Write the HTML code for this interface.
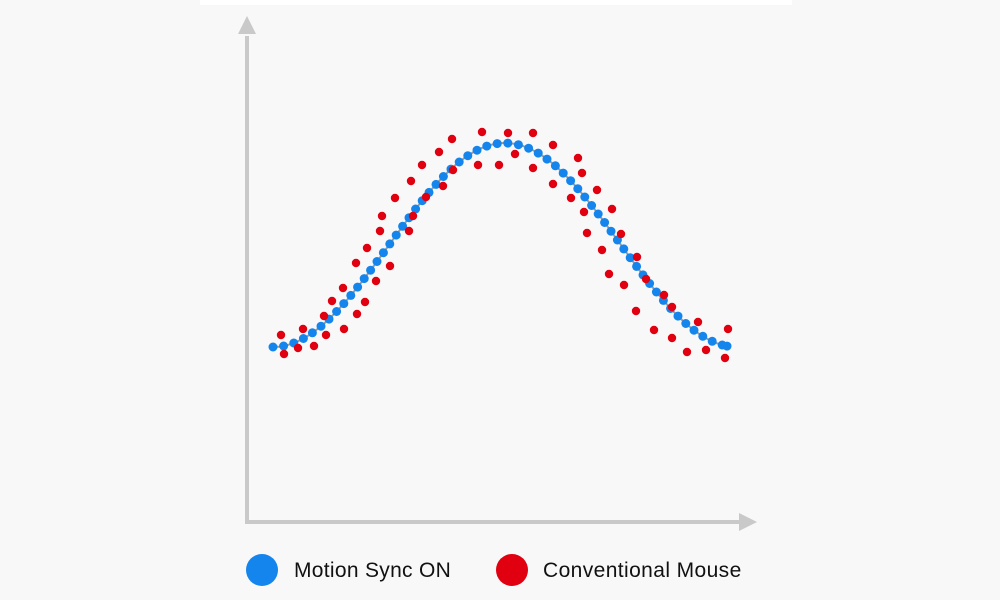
<!DOCTYPE html>
<html><head><meta charset="utf-8"><style>
html,body{margin:0;padding:0;background:#f8f8f8;width:1000px;height:600px;overflow:hidden}
svg{display:block}
</style></head><body>
<svg id="s" width="1000" height="600" xmlns="http://www.w3.org/2000/svg">
<rect x="0" y="0" width="1000" height="600" fill="#f8f8f8"/>
<rect x="200" y="0" width="592" height="5" fill="#ffffff"/>
<g stroke="#c9c9c9" stroke-width="4" fill="none">
<line x1="247" y1="36" x2="247" y2="522"/>
<line x1="245" y1="522" x2="742" y2="522"/>
</g>
<polygon points="247,16 238,34 256,34" fill="#c9c9c9"/>
<polygon points="757,522 739,513 739,531" fill="#c9c9c9"/>
<path id="curve" fill="none" stroke="#9a9a9a" stroke-width="2"/>
<g id="blue" fill="#1485ec"></g>
<g id="red" fill="#e0000f"></g>
<circle cx="262" cy="570" r="16" fill="#1485ec"/>
<text x="294" y="577" font-family="Liberation Sans, sans-serif" font-size="21" letter-spacing="0.3" fill="#111">Motion Sync ON</text>
<circle cx="512" cy="570" r="16" fill="#e0000f"/>
<text x="543" y="577" font-family="Liberation Sans, sans-serif" font-size="21" letter-spacing="0.4" fill="#111">Conventional Mouse</text>
</svg>
<script>
var ns="http://www.w3.org/2000/svg";
function f(x){return 347-102*(1+Math.cos(Math.PI*(x-505)/232));}
var d="M273,"+f(273);
for(var x=274;x<=728;x++)d+=" L"+x+","+f(x).toFixed(1);
document.getElementById("curve").setAttribute("d",d);
var b=document.getElementById("blue"),acc=0,px=273,py=f(273),step=10.6;
function dot(g,x,y,r){var c=document.createElementNS(ns,"circle");c.setAttribute("cx",x);c.setAttribute("cy",y);c.setAttribute("r",r);g.appendChild(c);}
dot(b,px,py,4.5);
for(var x=273.2;x<=727;x+=0.2){var y=f(x);acc+=Math.hypot(x-px,y-py);px=x;py=y;if(acc>=step){acc=0;dot(b,x.toFixed(1),y.toFixed(1),4.5);}}
dot(b,727,f(727),4.5);
var R=[[281,335],[284,354],[303,329],[298,348],[314,346],[324,316],[326,335],[332,301],[344,329],[343,288],[357,314],[356,263],[365,302],[376,281],[367,248],[390,266],[380,231],[382,216],[395,198],[409,231],[413,216],[411,181],[426,197],[422,165],[443,186],[439,152],[453,170],[452,139],[478,165],[482,132],[499,165],[508,133],[533,133],[515,154],[533,168],[553,145],[553,184],[578,158],[582,173],[571,198],[597,190],[584,212],[612,209],[587,233],[621,234],[602,250],[637,257],[609,274],[624,285],[646,279],[664,295],[636,311],[672,307],[654,330],[672,338],[698,322],[687,352],[706,350],[728,329],[725,358]];
var r=document.getElementById("red");
R.forEach(function(p){dot(r,p[0],p[1],4.2);});
</script>
</body></html>
